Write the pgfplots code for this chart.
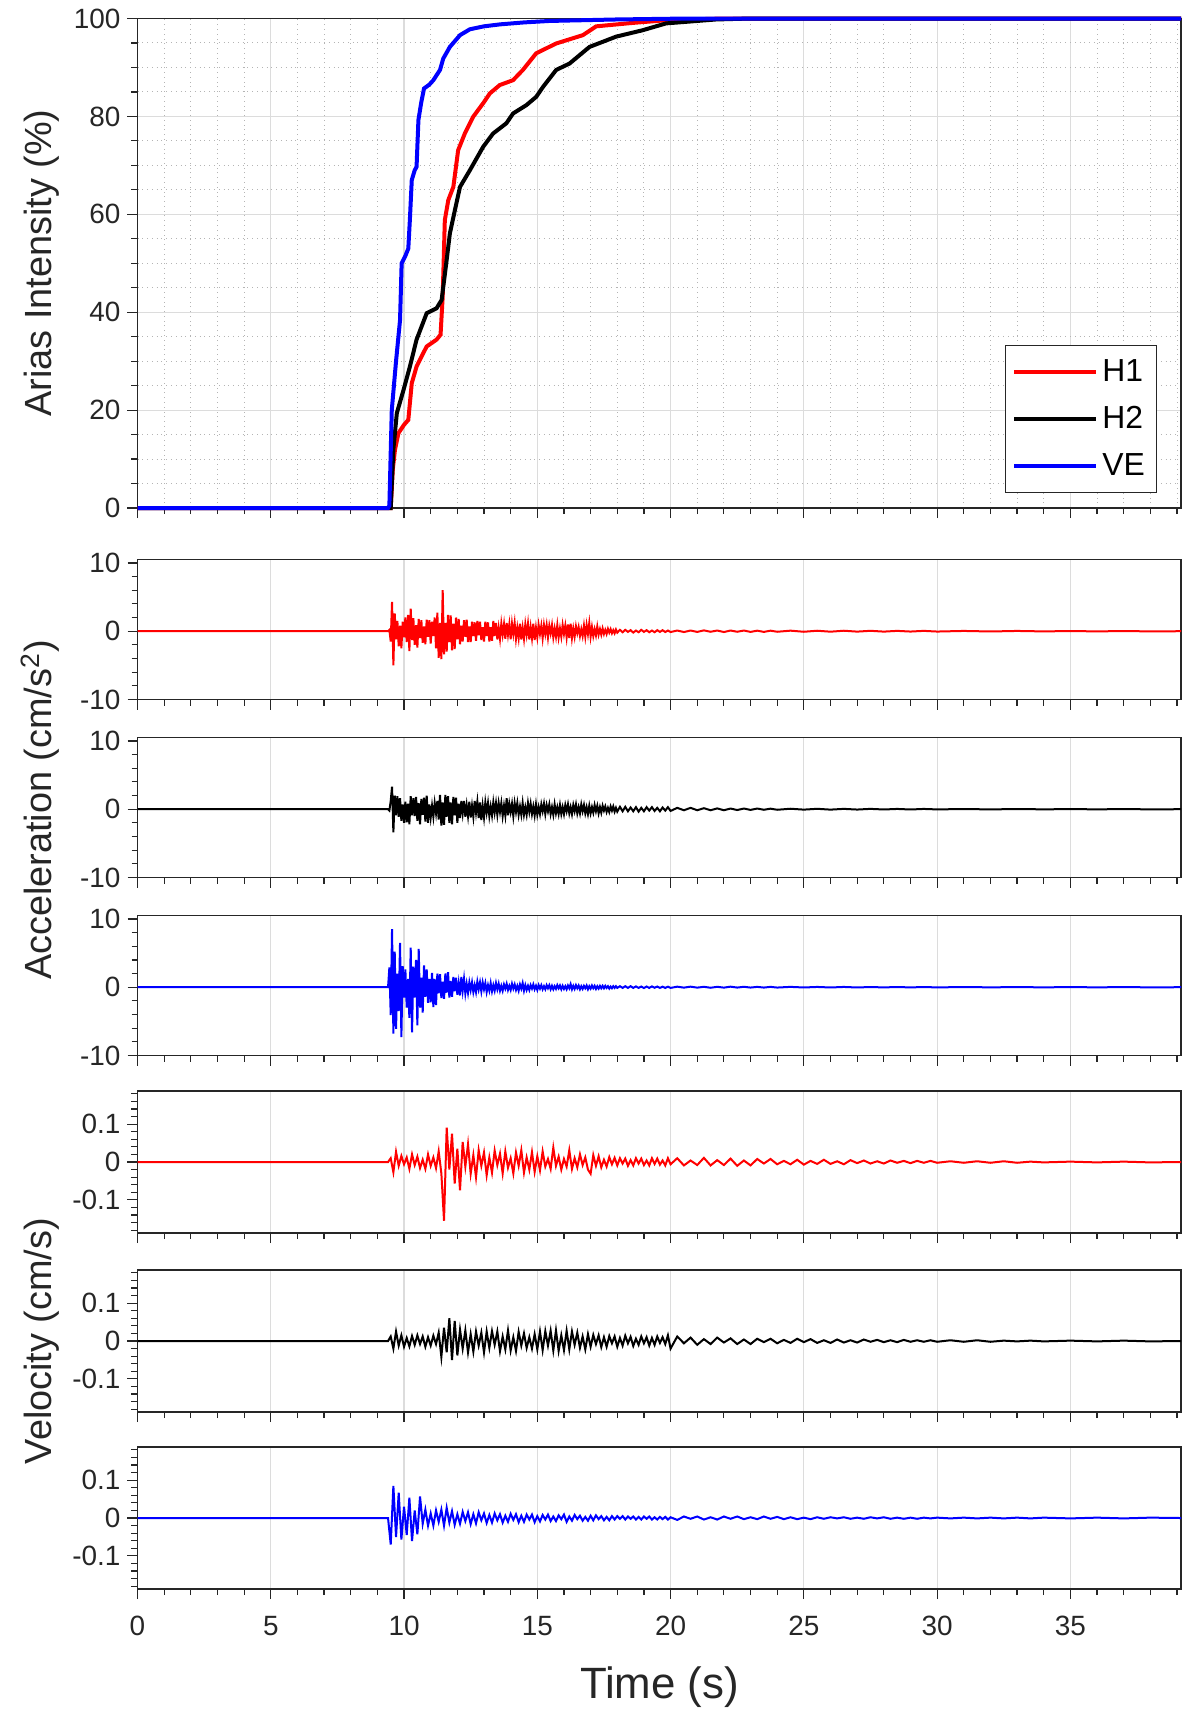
\documentclass[border=0pt]{standalone}
\usepackage{pgfplots}
\usepackage{pgfplotstable}
\pgfplotsset{compat=1.18}
\usepackage{fontspec}
\setmainfont{Liberation Sans}
\definecolor{axgray}{HTML}{262626}
\definecolor{gridmaj}{HTML}{DCDCDC}
\definecolor{gridmin}{HTML}{B4B4B4}

\pgfplotstableread{
t H1
0 0
9.50 0
9.58 8
9.66 11.9
9.79 15.3
10.00 17
10.16 18
10.29 25.5
10.47 28.9
10.66 31
10.85 33
11.22 34.4
11.37 35.4
11.45 43.2
11.53 58.8
11.66 62.9
11.85 65.6
12.03 73.1
12.28 76.5
12.59 79.9
12.97 82.7
13.22 84.7
13.59 86.4
14.09 87.4
14.46 89.5
14.96 92.9
15.71 94.9
16.71 96.6
17.21 98.4
18.58 99.1
19.95 99.7
22.0 100
39.15 100
}\ariasA
\pgfplotstableread{
t H2
0 0
9.50 0
9.60 12
9.73 19.4
9.98 24.1
10.22 28.9
10.47 34.4
10.85 39.8
11.22 40.8
11.41 42.5
11.60 50.7
11.72 56.1
11.91 60.9
12.10 65.6
12.47 69
12.97 73.8
13.34 76.5
13.84 78.6
14.09 80.6
14.59 82.3
14.96 84
15.21 86
15.71 89.5
16.21 90.8
16.96 94.2
17.96 96.3
18.95 97.6
19.83 99
21.70 99.8
23.0 100
39.15 100
}\ariasB
\pgfplotstableread{
t VE
0 0
9.40 0
9.45 0.5
9.54 20
9.70 30
9.85 38.4
9.91 50
10.05 51.5
10.16 53
10.22 59
10.29 67
10.40 69
10.47 69.7
10.54 79.3
10.65 83
10.75 85.7
10.95 86.5
11.10 87.4
11.35 89.5
11.47 91.8
11.72 94.2
12.10 96.6
12.47 97.8
13.00 98.4
13.60 98.8
14.50 99.2
15.46 99.5
17.96 99.8
20.00 99.95
22.00 100
39.15 100
}\ariasC

\pgfplotstableread{
t H1 H2 VE
0 0 0 0
9.40 0 0 0
9.45 0.2 -0.2 2.9
9.50 -1.5 1.2 -4.1
9.55 4.3 3.3 8.5
9.60 -5.0 -3.4 -6.8
9.65 2.6 2.0 5.2
9.70 -1.2 -0.9 -6.1
9.75 1.5 1.9 2.0
9.80 -2.2 -1.1 -3.5
9.85 0.8 1.6 6.5
9.90 -2.5 -1.7 -7.3
9.95 1.4 0.7 3.1
10.00 -0.9 -2.0 -1.5
10.05 2.0 1.1 2.6
10.10 -1.6 -1.9 -3.0
10.15 2.4 0.8 1.2
10.20 -2.9 -2.2 -4.5
10.25 3.3 1.9 5.8
10.30 -1.3 -0.9 -6.6
10.35 1.9 1.6 3.0
10.40 -2.0 -1.0 -1.5
10.45 0.9 1.8 4.0
10.50 -2.4 -1.7 -5.6
10.55 1.8 0.9 5.6
10.60 -1.0 -2.2 -3.0
10.65 1.6 1.5 1.4
10.70 -1.7 -0.8 -3.7
10.75 0.7 1.7 3.2
10.80 -1.9 -1.8 -1.4
10.85 1.7 2.0 2.6
10.90 -0.8 -2.0 -2.3
10.95 1.6 0.7 1.2
11.00 -1.8 -1.2 -2.2
11.05 1.4 0.5 2.1
11.10 -0.7 -1.1 -2.9
11.15 2.0 0.9 1.2
11.20 -2.5 -0.6 -2.6
11.25 2.7 1.2 2.0
11.30 -3.9 -1.5 -0.9
11.35 1.2 2.1 1.9
11.40 -4.1 -2.4 -1.6
11.45 6.0 1.0 0.8
11.50 -3.4 -2.3 -1.7
11.55 1.2 2.1 2.0
11.60 -3.0 -1.1 -0.8
11.65 2.4 1.9 2.2
11.70 -1.6 -2.0 -1.5
11.75 2.3 1.0 0.9
11.80 -2.8 -2.2 -1.4
11.85 1.1 1.8 1.5
11.90 -2.6 -0.9 -0.6
11.95 2.0 1.7 1.4
12.00 -1.2 -2.0 -1.1
12.05 1.8 0.8 0.6
12.10 -1.9 -1.3 -1.2
12.15 0.8 1.2 1.5
12.20 -1.5 -0.6 -0.5
12.25 1.6 1.2 1.2
12.30 -0.8 -1.1 -0.9
12.35 1.7 0.6 0.5
12.40 -1.6 -1.0 -0.8
12.45 0.7 1.1 0.7
12.50 -1.6 -1.2 -0.4
12.55 1.4 0.5 0.7
12.60 -0.7 -1.1 -0.7
12.65 1.3 1.2 0.3
12.70 -1.4 -0.5 -0.7
12.75 1.5 1.1 0.8
12.80 -0.6 -1.3 -0.3
12.85 1.4 1.0 0.7
12.90 -1.3 -1.6 -0.6
12.95 0.6 0.5 0.7
13.00 -1.5 -1.2 -0.3
13.05 1.4 1.0 0.6
13.10 -0.7 -0.5 -0.7
13.15 1.3 0.9 0.3
13.20 -1.5 -1.0 -0.5
13.25 0.6 0.4 0.6
13.30 -1.4 -0.9 -0.6
13.35 1.5 1.0 0.3
13.40 -0.7 -0.5 -0.5
13.45 1.2 0.9 0.6
13.50 -1.2 -0.8 -0.3
13.55 0.5 0.9 0.5
13.60 -1.1 -0.4 -0.5
13.65 1.1 0.9 0.2
13.70 -0.5 -1.0 -0.5
13.75 1.0 0.5 0.4
13.80 -1.1 -0.9 -0.2
13.85 1.2 1.6 0.5
13.90 -0.5 -0.9 -0.4
13.95 1.0 0.8 0.2
14.00 -1.2 -0.4 -0.4
14.05 1.1 0.8 0.5
14.10 -0.4 -1.0 -0.2
14.15 1.2 0.9 0.4
14.20 -1.1 -0.4 -0.4
14.25 0.5 0.9 0.2
14.30 -1.0 -0.8 -0.5
14.35 1.1 0.4 0.4
14.40 -1.2 -0.8 -0.2
14.45 0.5 0.9 0.6
14.50 -1.1 -0.8 -0.5
14.55 1.0 0.3 0.3
14.60 -0.5 -0.8 -0.4
14.65 1.1 0.9 0.2
14.70 -1.2 -0.4 -0.4
14.75 0.6 0.8 0.3
14.80 -1.0 -0.7 -0.2
14.85 1.1 0.4 0.4
14.90 -1.3 -0.9 -0.3
14.95 0.5 0.7 0.2
15.00 -0.9 -0.8 -0.4
15.05 0.9 0.3 0.3
15.10 -0.4 -0.7 -0.2
15.15 0.8 0.7 0.3
15.20 -1.0 -0.3 -0.3
15.25 0.9 0.8 0.15
15.30 -0.4 -0.7 -0.3
15.35 0.9 0.6 0.3
15.40 -0.9 -0.3 -0.15
15.45 0.8 0.7 0.3
15.50 -0.3 -0.7 -0.3
15.55 0.9 0.3 0.2
15.60 -0.9 -0.8 -0.3
15.65 0.4 0.7 0.15
15.70 -0.8 -0.6 -0.25
15.75 0.9 0.3 0.3
15.80 -0.9 -0.7 -0.15
15.85 0.4 0.6 0.25
15.90 -0.8 -0.7 -0.3
15.95 0.9 0.3 0.2
16.00 -0.4 -0.7 -0.25
16.05 0.8 0.6 0.15
16.10 -0.9 -0.3 -0.3
16.15 1.0 0.7 0.25
16.20 -1.0 -0.6 -0.15
16.25 1.1 0.3 0.45
16.30 -1.0 -0.7 -0.3
16.35 0.4 0.6 0.2
16.40 -0.8 -0.3 -0.25
16.45 0.7 0.7 0.3
16.50 -0.3 -0.6 -0.15
16.55 0.6 0.3 0.25
16.60 -0.7 -0.6 -0.3
16.65 0.3 0.7 0.15
16.70 -0.7 -0.3 -0.25
16.75 0.8 0.6 0.2
16.80 -0.8 -0.6 -0.15
16.85 0.9 0.3 0.25
16.90 -0.4 -0.7 -0.3
16.95 1.2 0.5 0.15
17.00 -0.8 -0.6 -0.2
17.05 0.6 0.3 0.25
17.10 -0.7 -0.5 -0.15
17.15 0.3 0.6 0.2
17.20 -0.6 -0.3 -0.25
17.25 0.7 0.5 0.15
17.30 -0.5 -0.6 -0.2
17.35 0.3 0.3 0.2
17.40 -0.5 -0.5 -0.15
17.45 0.4 0.5 0.2
17.50 -0.4 -0.2 -0.15
17.55 0.2 0.4 0.2
17.60 -0.4 -0.4 -0.1
17.65 0.35 0.2 0.15
17.70 -0.2 -0.4 -0.2
17.75 0.3 0.4 0.1
17.80 -0.3 -0.2 -0.15
17.85 0.15 0.4 0.15
17.90 -0.3 -0.35 -0.1
17.95 0.25 0.2 0.15
18.00 -0.2 -0.35 -0.1
18.1 0.2 0.35 0.15
18.2 -0.15 -0.3 -0.1
18.3 0.2 0.35 0.15
18.4 -0.1 -0.3 -0.1
18.5 0.15 0.25 0.15
18.6 -0.2 -0.3 -0.1
18.7 0.1 0.3 0.12
18.8 -0.15 -0.35 -0.1
18.9 0.2 0.2 0.1
19.0 -0.1 -0.3 -0.12
19.1 0.15 0.3 0.1
19.2 -0.15 -0.2 -0.1
19.3 0.1 0.3 0.12
19.4 -0.15 -0.25 -0.08
19.5 0.15 0.2 0.1
19.6 -0.1 -0.3 -0.1
19.7 0.15 0.25 0.08
19.8 -0.12 -0.2 -0.1
19.9 0.1 0.3 0.08
20.0 -0.12 -0.25 -0.1
20.25 0.1 0.2 0.08
20.5 -0.12 -0.15 -0.06
20.75 0.1 0.2 0.08
21.0 -0.1 -0.15 -0.06
21.25 0.12 0.15 0.06
21.5 -0.08 -0.15 -0.08
21.75 0.1 0.12 0.06
22.0 -0.12 -0.15 -0.06
22.25 0.1 0.1 0.08
22.5 -0.08 -0.12 -0.05
22.75 0.1 0.1 0.06
23.0 -0.1 -0.1 -0.05
23.25 0.08 0.1 0.05
23.5 -0.1 -0.08 -0.05
23.75 0.08 0.08 0.05
24.0 -0.08 -0.08 -0.05
24.5 0.08 0.07 0.05
25.0 -0.08 -0.06 -0.04
25.5 0.07 0.06 0.04
26.0 -0.07 -0.06 -0.04
26.5 0.07 0.05 0.04
27.0 -0.06 -0.05 -0.04
27.5 0.06 0.05 0.03
28.0 -0.06 -0.04 -0.03
28.5 0.05 0.04 0.03
29.0 -0.05 -0.04 -0.03
29.5 0.05 0.04 0.03
30.0 -0.05 -0.03 -0.03
31.0 0.04 0.03 0.03
32.0 -0.04 -0.03 -0.02
33.0 0.04 0.03 0.02
34.0 -0.03 -0.02 -0.02
35.0 0.03 0.02 0.02
36.0 -0.03 -0.02 -0.02
37.0 0.03 0.02 0.02
38.0 -0.03 -0.02 -0.02
39.15 0 0 0
}\acc

\pgfplotstableread{
t H1 H2 VE
0 0 0 0
9.4 0 0 0
9.5 0.010 0.012 -0.070
9.6 -0.027 -0.020 0.085
9.7 0.027 0.025 -0.050
9.8 -0.010 -0.012 0.067
9.9 0.016 0.015 -0.057
10.0 -0.006 -0.015 0.030
10.1 0.012 0.008 -0.045
10.2 -0.018 -0.014 0.054
10.3 0.020 0.013 -0.061
10.4 -0.008 -0.010 0.020
10.5 0.014 0.015 -0.043
10.6 -0.016 -0.008 0.057
10.7 0.006 0.012 -0.015
10.8 -0.018 -0.015 0.022
10.9 0.020 0.010 -0.020
11.0 -0.010 -0.012 0.012
11.1 0.012 0.014 -0.020
11.2 -0.016 -0.008 0.020
11.3 0.028 0.022 -0.010
11.4 -0.030 -0.042 0.022
11.5 -0.155 0.035 -0.020
11.6 0.091 -0.030 0.027
11.7 -0.020 0.060 -0.012
11.8 0.075 -0.050 0.018
11.9 -0.057 0.053 -0.018
12.0 0.035 -0.038 0.010
12.1 -0.075 0.030 -0.015
12.2 0.053 -0.020 0.016
12.3 -0.012 0.028 -0.008
12.4 0.047 -0.030 0.015
12.5 -0.031 0.018 -0.016
12.6 0.018 -0.028 0.010
12.7 -0.040 0.025 -0.014
12.8 0.031 -0.012 0.015
12.9 -0.010 0.022 -0.006
13.0 0.025 -0.030 0.012
13.1 -0.035 0.025 -0.013
13.2 0.012 -0.018 0.008
13.3 -0.028 0.026 -0.012
13.4 0.030 -0.010 0.012
13.5 -0.008 0.025 -0.006
13.6 0.022 -0.027 0.010
13.7 -0.030 0.012 -0.012
13.8 0.028 -0.022 0.006
13.9 -0.015 0.028 -0.010
14.0 0.010 -0.025 0.011
14.1 -0.030 0.010 -0.005
14.2 0.025 -0.026 0.010
14.3 -0.010 0.024 -0.011
14.4 0.031 -0.012 0.006
14.5 -0.028 0.020 -0.010
14.6 0.012 -0.018 0.009
14.7 -0.020 0.010 -0.004
14.8 0.026 -0.020 0.009
14.9 -0.026 0.018 -0.011
15.0 0.015 -0.022 0.005
15.1 -0.022 0.025 -0.009
15.2 0.028 -0.024 0.008
15.3 -0.012 0.026 -0.004
15.4 0.008 -0.012 0.009
15.5 -0.018 0.027 -0.008
15.6 0.038 -0.025 0.004
15.7 -0.010 0.028 -0.008
15.8 0.014 -0.026 0.007
15.9 -0.020 0.015 -0.003
16.0 0.008 -0.024 0.009
16.1 -0.012 0.027 -0.010
16.2 0.031 -0.022 0.004
16.3 -0.018 0.025 -0.007
16.4 0.010 -0.010 0.008
16.5 -0.014 0.022 -0.003
16.6 0.020 -0.018 0.006
16.7 -0.008 0.012 -0.007
16.8 0.012 -0.022 0.003
16.9 -0.020 0.018 -0.007
17.0 -0.031 -0.015 0.006
17.1 0.018 0.016 -0.006
17.2 -0.010 -0.008 0.007
17.3 0.015 0.015 -0.003
17.4 -0.014 -0.016 0.005
17.5 0.006 0.010 -0.006
17.6 -0.012 -0.015 0.003
17.7 0.013 0.013 -0.006
17.8 -0.006 -0.006 0.005
17.9 0.011 0.012 -0.004
18.0 -0.009 -0.015 0.005
18.1 0.010 0.008 -0.002
18.2 -0.004 -0.012 0.005
18.3 0.009 0.014 -0.004
18.4 -0.010 -0.006 0.004
18.5 0.005 0.011 -0.002
18.6 -0.009 -0.013 0.004
18.7 0.010 0.006 -0.004
18.8 -0.004 -0.010 0.003
18.9 0.009 0.012 -0.004
19.0 -0.008 -0.006 0.004
19.1 0.004 0.010 -0.002
19.2 -0.009 -0.012 0.004
19.3 0.010 0.008 -0.004
19.4 -0.005 -0.010 0.002
19.5 0.009 0.012 -0.004
19.6 -0.007 -0.005 0.003
19.7 0.004 0.010 -0.003
19.8 -0.009 -0.008 0.003
19.9 0.010 0.015 -0.004
20.0 -0.006 -0.020 0.002
20.25 0.010 0.012 -0.005
20.5 -0.009 -0.006 0.004
20.75 0.004 0.009 -0.002
21.0 -0.008 -0.010 0.004
21.25 0.011 0.005 -0.004
21.5 -0.009 -0.008 0.002
21.75 0.005 0.009 -0.004
22.0 -0.008 -0.004 0.004
22.25 0.009 0.007 -0.002
22.5 -0.010 -0.008 0.004
22.75 0.004 0.004 -0.003
23.0 -0.009 -0.008 0.002
23.25 0.008 0.006 -0.003
23.5 -0.004 -0.003 0.004
23.75 0.008 0.006 -0.002
24.0 -0.006 -0.006 0.003
24.25 0.003 0.003 -0.003
24.5 -0.006 -0.005 0.002
24.75 0.006 0.006 -0.003
25.0 -0.007 -0.003 0.001
25.25 0.003 0.005 -0.003
25.5 -0.005 -0.005 0.002
25.75 0.006 0.002 -0.002
26.0 -0.005 -0.005 0.002
26.25 0.002 0.004 -0.001
26.5 -0.006 -0.004 0.002
26.75 0.005 0.002 -0.002
27.0 -0.003 -0.004 0.001
27.25 0.004 0.004 -0.002
27.5 -0.004 -0.002 0.002
27.75 0.002 0.003 -0.001
28.0 -0.004 -0.003 0.002
28.25 0.004 0.002 -0.002
28.5 -0.002 -0.003 0.001
28.75 0.003 0.003 -0.002
29.0 -0.003 -0.002 0.001
29.25 0.003 0.002 -0.002
29.5 -0.002 -0.002 0.001
29.75 0.003 0.002 -0.001
30.0 -0.002 -0.002 0.001
30.5 0.002 0.002 -0.001
31.0 -0.002 -0.002 0.001
31.5 0.002 0.002 -0.001
32.0 -0.002 -0.002 0.001
32.5 0.002 0.001 -0.001
33.0 -0.002 -0.001 0.001
33.5 0.001 0.001 -0.001
34.0 -0.001 -0.001 0.001
35.0 0.001 0.001 -0.001
36.0 -0.001 -0.001 0.001
37.0 0.001 0.001 -0.001
38.0 -0.001 -0.001 0.001
39.15 0 0 0
}\vel

\pgfplotsset{
  panel/.style={
    scale only axis, width=521.75bp, xmin=0, xmax=39.15,
    anchor=north west,
    axis line style={axgray, line width=0.6bp},
    tick style={axgray, line width=0.6bp},
    tick align=outside, major tick length=5bp, minor tick length=3bp,
    xtick={0,5,...,35},
    minor xtick={1,2,3,4,6,7,8,9,11,12,13,14,16,17,18,19,21,22,23,24,26,27,28,29,31,32,33,34,36,37,38,39},
    xticklabels={},
    xtick pos=left, ytick pos=left,
    tick label style={font=\fontsize{14}{16}\selectfont, text=axgray},
    major grid style={gridmaj, line width=0.6bp},
    scaled y ticks=false,
  },
  accpanel/.style={panel, height=70bp, ymin=-10, ymax=10.5,
    ytick={-10,0,10}, yticklabels={-10,0,10},
    minor ytick={-8,-6,-4,-2,2,4,6,8}, xmajorgrids},
  velpanel/.style={panel, height=71bp, ymin=-0.1875, ymax=0.1875,
    ytick={-0.1,0,0.1}, yticklabels={-0.1,0,0.1},
    minor ytick={-0.18,-0.16,-0.14,-0.12,-0.08,-0.06,-0.04,-0.02,0.02,0.04,0.06,0.08,0.12,0.14,0.16,0.18},
    xmajorgrids},
}

\begin{document}
\begin{tikzpicture}
\useasboundingbox (0bp,0bp) rectangle (592bp,-855bp);

% Arias intensity
\begin{axis}[panel, at={(68.75bp,-9.25bp)}, height=244.75bp,
  ymin=0, ymax=100, ytick={0,20,40,60,80,100}, yticklabels={0,20,40,60,80,100},
  minor ytick={5,10,15,25,30,35,45,50,55,65,70,75,85,90,95},
  xmajorgrids, ymajorgrids, xminorgrids, yminorgrids,
  minor grid style={gridmin, dotted, line width=0.5bp},
  clip=false,
  legend style={at={(0.8313,0.333)}, anchor=north west, draw=axgray, line width=0.5bp,
    fill=white, font=\fontsize{16}{18}\selectfont, inner xsep=3.5bp, inner ysep=5bp,
    row sep=7bp, nodes={inner sep=2bp}, cells={anchor=west}},
  legend image code/.code={\draw[#1, line width=2bp] (0bp,0bp) -- (41bp,0bp);},
]
\addplot[red, line width=2bp] table[x=t, y=H1] {\ariasA};
\addplot[black, line width=2bp] table[x=t, y=H2] {\ariasB};
\addplot[blue, line width=2bp] table[x=t, y=VE] {\ariasC};
\legend{H1, H2, VE}
\end{axis}

% Acceleration
\begin{axis}[accpanel, at={(68.75bp,-279.75bp)}]
\addplot[red, line width=1bp] table[x=t, y=H1] {\acc};
\end{axis}
\begin{axis}[accpanel, at={(68.75bp,-368.75bp)}]
\addplot[black, line width=1bp] table[x=t, y=H2] {\acc};
\end{axis}
\begin{axis}[accpanel, at={(68.75bp,-457.75bp)}]
\addplot[blue, line width=1bp] table[x=t, y=VE] {\acc};
\end{axis}

% Velocity
\begin{axis}[velpanel, at={(68.75bp,-545.5bp)}]
\addplot[red, line width=1bp] table[x=t, y=H1] {\vel};
\end{axis}
\begin{axis}[velpanel, at={(68.75bp,-635bp)}]
\addplot[black, line width=1bp] table[x=t, y=H2] {\vel};
\end{axis}
\begin{axis}[velpanel, at={(68.75bp,-723.5bp)},
  xticklabels={0,5,10,15,20,25,30,35}, xticklabel style={yshift=-5bp}]
\addplot[blue, line width=1bp] table[x=t, y=VE] {\vel};
\end{axis}

% Labels
\node[rotate=90, anchor=base, font=\fontsize{19}{22}\selectfont, text=axgray] at (25.8bp,-131.5bp) {Arias Intensity (\%)};
\node[rotate=90, anchor=base, font=\fontsize{19}{22}\selectfont, text=axgray] at (25.8bp,-405bp) {Acceleration (cm/s\textsuperscript{2})};
\node[rotate=90, anchor=base, font=\fontsize{19}{22}\selectfont, text=axgray] at (25.8bp,-670.5bp) {Velocity (cm/s)};
\node[anchor=base, font=\fontsize{22}{26}\selectfont, text=axgray] at (329.8bp,-849bp) {Time (s)};
\end{tikzpicture}
\end{document}
